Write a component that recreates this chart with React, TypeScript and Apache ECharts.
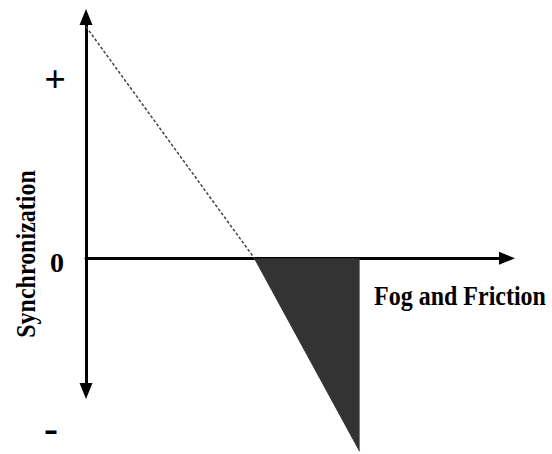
import React, { useEffect, useRef } from "react";
import * as echarts from "echarts";

// Conceptual chart: Synchronization (y) versus Fog and Friction (x)
const xRange = [0, 10];
const yRange = [-5.5, 10];
// dashed line: synchronization falling as fog and friction grows
const dashedX = [0, 4];
const dashedY = [9.6, 0];
// shaded region of negative synchronization
const shadedX = [4, 6.5];
const shadedY = [0, -8];
// texts
const xAxisTitle = "Fog and Friction";
const yAxisTitle = "Synchronization";
const yMarks = ["+", "0", "-"];

const serif = "'Liberation Serif', 'Times New Roman', serif";

export default function App() {
  const ref = useRef<HTMLDivElement>(null);
  useEffect(() => {
    if (!ref.current) return;
    const chart = echarts.init(ref.current, null, { renderer: "svg" });
    const axisLine = (symbol: string[]) => ({
      show: true,
      onZero: true,
      symbol,
      symbolSize: [13, 16],
      lineStyle: { color: "#000", width: 3 },
    });
    chart.setOption({
      animation: false,
      backgroundColor: "#fff",
      grid: { left: 86, right: 45, top: 17, bottom: 63, containLabel: false },
      xAxis: {
        type: "value",
        min: xRange[0],
        max: xRange[1],
        axisLine: axisLine(["none", "triangle"]),
        axisTick: { show: false },
        axisLabel: { show: false },
        splitLine: { show: false },
      },
      yAxis: {
        type: "value",
        min: yRange[0],
        max: yRange[1],
        axisLine: axisLine(["triangle", "triangle"]),
        axisTick: { show: false },
        axisLabel: { show: false },
        splitLine: { show: false },
      },
      series: [
        {
          type: "line",
          data: dashedX.map((x, i) => [x, dashedY[i]]),
          showSymbol: false,
          symbol: "none",
          clip: false,
          lineStyle: { color: "#444", width: 1.5, type: [3, 2] },
          z: 1,
        },
        {
          type: "line",
          data: shadedX.map((x, i) => [x, shadedY[i]]),
          showSymbol: false,
          symbol: "none",
          clip: false,
          lineStyle: { color: "#333", width: 1 },
          areaStyle: { color: "#333", opacity: 1, origin: 0 },
          z: 1,
        },
      ],
      graphic: [
        {
          type: "text",
          x: 55,
          y: 79,
          style: {
            text: yMarks[0],
            font: `bold 38px ${serif}`,
            fill: "#000",
            align: "center",
            verticalAlign: "middle",
          },
        },
        {
          type: "text",
          x: 57,
          y: 262,
          style: {
            text: yMarks[1],
            font: `bold 28px ${serif}`,
            fill: "#000",
            align: "center",
            verticalAlign: "middle",
          },
        },
        {
          type: "text",
          x: 51,
          y: 428,
          style: {
            text: yMarks[2],
            font: `bold 42px ${serif}`,
            fill: "#000",
            align: "center",
            verticalAlign: "middle",
          },
        },
        {
          type: "text",
          x: 26,
          y: 254,
          rotation: Math.PI / 2,
          scaleY: 1.12,
          style: {
            text: yAxisTitle,
            font: `bold 24px ${serif}`,
            fill: "#000",
            align: "center",
            verticalAlign: "middle",
          },
        },
        {
          type: "text",
          x: 460,
          y: 296,
          scaleY: 1.12,
          style: {
            text: xAxisTitle,
            font: `bold 24px ${serif}`,
            fill: "#000",
            align: "center",
            verticalAlign: "middle",
          },
        },
      ],
    });
    return () => chart.dispose();
  }, []);
  return (
    <div
      ref={ref}
      style={{ position: "fixed", left: 0, top: 0, width: 552, height: 454 }}
    />
  );
}
